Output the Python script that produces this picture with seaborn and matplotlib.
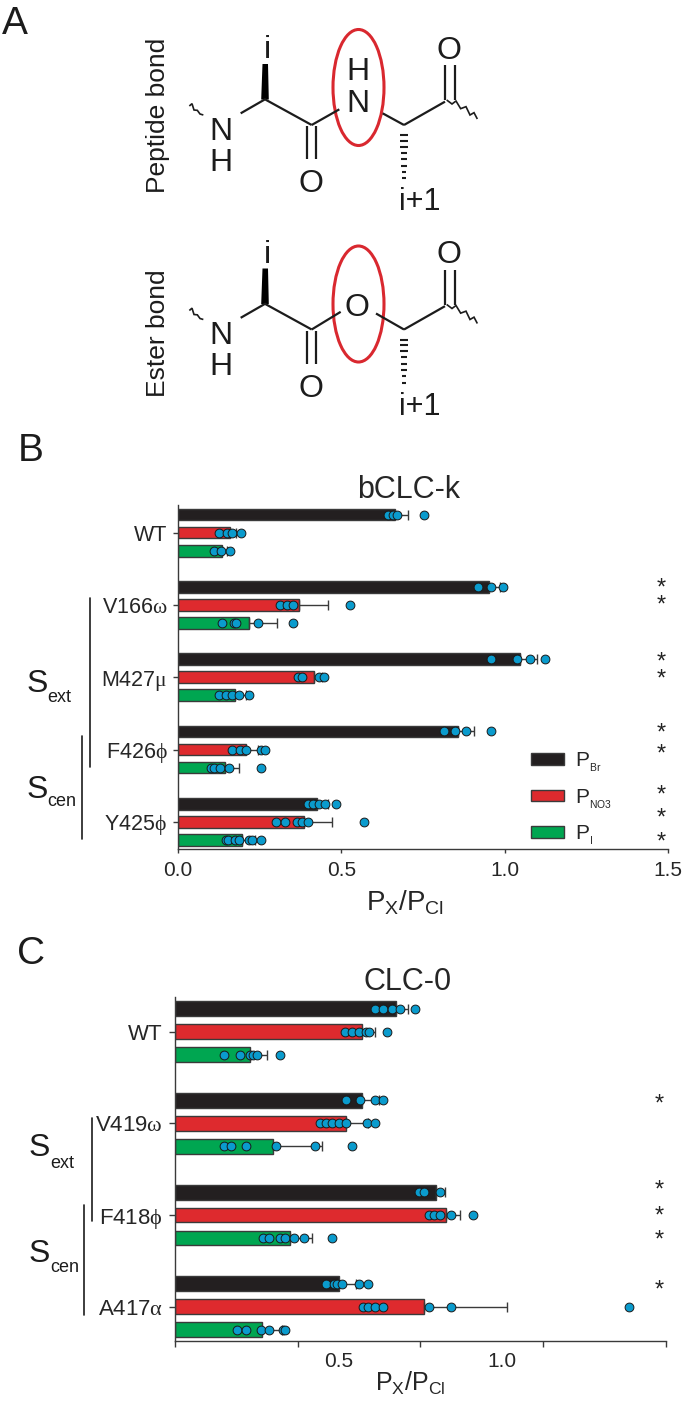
import numpy as np
import pandas as pd
import matplotlib
matplotlib.use("Agg")
import matplotlib.pyplot as plt
from matplotlib.patches import Ellipse, Polygon
import seaborn as sns

# Data
BCLC_GROUPS = ["WT", r"V166$\mathrm{\omega}$", r"M427$\mathrm{\mu}$", r"F426$\mathrm{\phi}$", r"Y425$\mathrm{\phi}$"]
BCLC_MEAN_BR = [0.665, 0.952, 1.046, 0.857, 0.426]
BCLC_MEAN_NO3 = [0.158, 0.371, 0.415, 0.207, 0.385]
BCLC_MEAN_I = [0.135, 0.218, 0.174, 0.144, 0.196]
BCLC_ERR_BR = [0.038, 0.034, 0.053, 0.050, 0.032]
BCLC_ERR_NO3 = [0.020, 0.087, 0.025, 0.037, 0.086]
BCLC_ERR_I = [0.015, 0.084, 0.033, 0.044, 0.039]
BCLC_PTS_BR = [[.642, .658, .669, .752], [.919, .959, .996], [.958, 1.038, 1.079, 1.123],
               [.815, .849, .883, .958], [.398, .414, .431, .449, .485]]
BCLC_PTS_NO3 = [[.124, .151, .164, .192], [.311, .335, .351, .525], [.367, .381, .431, .447],
                [.164, .191, .208, .255, .266], [.301, .327, .365, .381, .397, .569]]
BCLC_PTS_I = [[.111, .131, .158], [.135, .171, .178, .244, .353], [.124, .147, .164, .187, .218],
              [.102, .111, .130, .155, .255], [.147, .154, .174, .188, .218, .227, .255]]
BCLC_STARS = [0.748, 0.988, 1.772, 2.011, 2.754, 3.048, 3.616, 3.934, 4.262]

CLC0_GROUPS = ["WT", r"V419$\mathrm{\omega}$", r"F418$\mathrm{\phi}$", r"A417$\mathrm{\alpha}$"]
CLC0_MEAN_BR = [0.675, 0.573, 0.797, 0.502]
CLC0_MEAN_NO3 = [0.573, 0.522, 0.829, 0.760]
CLC0_MEAN_I = [0.228, 0.301, 0.353, 0.267]
CLC0_ERR_BR = [0.038, 0.051, 0.027, 0.050]
CLC0_ERR_NO3 = [0.040, 0.067, 0.042, 0.255]
CLC0_ERR_I = [0.054, 0.148, 0.065, 0.059]
CLC0_PTS_BR = [[.613, .637, .662, .689, .733], [.522, .565, .610, .637], [.747, .760, .809],
               [.462, .486, .494, .512, .564, .589]]
CLC0_PTS_NO3 = [[.520, .541, .562, .584, .593, .649], [.443, .462, .481, .502, .522, .588, .613],
                [.777, .793, .809, .843, .912], [.576, .589, .612, .637, .777, .843, 1.389]]
CLC0_PTS_I = [[.150, .199, .230, .239, .250, .322], [.150, .170, .216, .310, .427, .542],
              [.270, .287, .322, .335, .363, .394, .481], [.191, .218, .263, .287, .330, .337]]
CLC0_STARS = [0.778, 1.716, 2.0, 2.26, 2.806]

PERMS = ["P$_{_{Br}}$", "P$_{_{NO3}}$", "P$_{_{I}}$"]
PERM_COLORS = ["#231f20", "#de2a2e", "#00a651"]
DOT_COLOR = "#0a9bcd"
EDGE = "#3a3a3a"
W, H = 685, 1402

sns.set_theme(style="ticks")
plt.rcParams["font.family"] = ["Liberation Sans", "DejaVu Sans"]
plt.rcParams["mathtext.fontset"] = "custom"
plt.rcParams["mathtext.rm"] = "Liberation Serif"
plt.rcParams["mathtext.default"] = "regular"


def bar_panel(ax, groups, means, errs, pts, stars, star_x, title, label_size):
    bars = pd.DataFrame([(g, p, m) for p, col in zip(PERMS, means) for g, m in zip(groups, col)],
                        columns=["group", "perm", "value"])
    sns.barplot(data=bars, x="value", y="group", hue="perm", hue_order=PERMS, palette=PERM_COLORS,
                orient="h", width=0.75, gap=0.35, errorbar=None, saturation=1,
                edgecolor=EDGE, linewidth=1, legend=True, ax=ax)

    dots = []
    for j, col in enumerate(pts):
        offset = (j - 1) * 0.25
        ypos = np.arange(len(groups)) + offset
        ax.errorbar(means[j], ypos, xerr=[np.zeros(len(groups)), errs[j]], fmt="none",
                    ecolor=EDGE, elinewidth=1, capsize=3.6, capthick=1, zorder=3)
        for i, vals in enumerate(col):
            dots += [(v, ypos[i]) for v in vals]
    dots = pd.DataFrame(dots, columns=["value", "pos"])
    sns.scatterplot(data=dots, x="value", y="pos", color=DOT_COLOR, edgecolor="#1a1a1a",
                    linewidth=0.7, s=40, zorder=4, ax=ax)

    for y in stars:
        ax.annotate("*", (star_x, y), xytext=(0, -5.5), textcoords="offset points",
                    ha="center", va="baseline", fontsize=17, color="#222222")

    ax.set_xlim(0, 1.5)
    ax.set_xlabel("P$_{X}$/P$_{Cl}$", fontsize=label_size)
    ax.set_ylabel("")
    ax.set_title(title, fontsize=22, pad=0)
    ax.tick_params(axis="y", length=3.8, width=1, pad=4, labelsize=15.5, color=EDGE)
    ax.tick_params(axis="x", width=1, labelsize=15, color=EDGE)
    sns.despine(ax=ax)
    for side in ("left", "bottom"):
        ax.spines[side].set_color(EDGE)
        ax.spines[side].set_linewidth(1)


def ax_box(left, right, top, bottom):
    return [left / W, 1 - bottom / H, (right - left) / W, (bottom - top) / H]


fig = plt.figure(figsize=(W / 100, H / 100), dpi=100)

# B
ax_b = fig.add_axes(ax_box(178, 668, 505, 849))
bar_panel(ax_b, BCLC_GROUPS, [BCLC_MEAN_BR, BCLC_MEAN_NO3, BCLC_MEAN_I],
          [BCLC_ERR_BR, BCLC_ERR_NO3, BCLC_ERR_I], [BCLC_PTS_BR, BCLC_PTS_NO3, BCLC_PTS_I],
          BCLC_STARS, 1.479, "bCLC-k", 20)
ax_b.set_ylim(4.376, -0.382)
ax_b.set_xticks([0, 0.5, 1.0, 1.5], ["0.0", "0.5", "1.0", "1.5"])
ax_b.tick_params(axis="x", length=3, pad=6)
ax_b.title.set_position((0.47, 1))
ax_b.xaxis.set_label_coords(0.463, -0.115)
sns.move_legend(ax_b, "upper left", bbox_to_anchor=(521 / W, 1 - 740 / H), bbox_transform=fig.transFigure,
                frameon=False, title=None, fontsize=15, handlelength=1.55, handleheight=0.5,
                labelspacing=0.62, handletextpad=0.55, borderpad=0)

# C, its tick marks sit at fifths-of-scale positions that do not line up with the labels
ax_c = fig.add_axes(ax_box(175, 665.6, 997, 1340.7))
bar_panel(ax_c, CLC0_GROUPS, [CLC0_MEAN_BR, CLC0_MEAN_NO3, CLC0_MEAN_I],
          [CLC0_ERR_BR, CLC0_ERR_NO3, CLC0_ERR_I], [CLC0_PTS_BR, CLC0_PTS_NO3, CLC0_PTS_I],
          CLC0_STARS, 1.481, "CLC-0", 18)
ax_c.set_ylim(3.371, -0.379)
ax_c.set_xticks([0, 0.375, 0.75, 1.125, 1.5], [])
ax_c.set_xticks([0, 0.5, 1.0, 1.5], ["0.0", "0.5", "1.0", "1.5"], minor=True)
ax_c.tick_params(axis="x", which="major", length=4.3)
ax_c.tick_params(axis="x", which="minor", length=0, pad=8, labelsize=15)
ax_c.tick_params(axis="y", length=4.2, pad=4.5, labelsize=16)
ax_c.title.set_position((0.475, 1))
ax_c.xaxis.set_label_coords(0.48, -0.085)
ax_c.get_legend().remove()

# Everything outside the axes, in picture pixels
sheet = fig.add_axes([0, 0, 1, 1], zorder=-1)
sheet.set_xlim(0, W)
sheet.set_ylim(H, 0)
sheet.axis("off")
sheet.patch.set_alpha(0)
INK = "#1c1c1c"


def mol_line(pts, dy, lw=1.6):
    xs = [p[0] / 3 for p in pts]
    ys = [p[1] / 3 + dy for p in pts]
    sheet.plot(xs, ys, color=INK, lw=lw, solid_capstyle="butt", solid_joinstyle="miter")


def mol_text(x, y, s, dy, size=23):
    sheet.text(x / 3, y / 3 + dy, s, ha="center", va="center_baseline", fontsize=size, color=INK)


def molecule(dy, ester):
    mol_text(802, 140, "i", dy)
    sheet.add_patch(Polygon([(262.5, 64 + dy), (268, 64 + dy), (268.8, 99.5 + dy), (261.2, 99.5 + dy)],
                            color="black", lw=0))
    mol_text(662, 385, "N", dy)
    mol_text(662, 478, "H", dy)
    mol_line([(722, 340), (795, 298), (935, 375)], dy)
    mol_line([(920, 378), (920, 478)], dy)
    mol_line([(948, 378), (948, 478)], dy)
    mol_text(932, 543, "O", dy)
    mol_line([(1335, 195), (1335, 300)], dy)
    mol_line([(1365, 195), (1365, 300)], dy)
    mol_text(1347, 142, "O", dy)
    mol_line([(1212, 375), (1335, 305)], dy)
    mol_text(1260, 597, "i+1", dy, size=22)
    for k, y in enumerate([405, 422, 440, 458, 478, 497, 515, 535]):
        half = 13 - k
        mol_line([(1212 - half, y), (1212 + half, y)], dy, lw=1.5)
    mol_line([(568, 318), (576, 311), (582, 330), (592, 331), (600, 342), (610, 345)], dy, lw=1.2)
    mol_line([(1340, 300), (1356, 312), (1368, 303), (1382, 326), (1398, 320), (1410, 345),
              (1422, 338), (1432, 357)], dy, lw=1.2)
    if ester:
        mol_line([(935, 375), (1022, 322)], dy)
        mol_line([(1128, 327), (1212, 375)], dy)
        mol_text(1070, 300, "O", dy)
    else:
        mol_line([(935, 375), (1018, 328)], dy)
        mol_line([(1148, 340), (1212, 375)], dy)
        mol_text(1075, 205, "H", dy)
        mol_text(1075, 300, "N", dy)


molecule(0, False)
molecule(204.5, True)
for cy in (87.5, 304):
    sheet.add_patch(Ellipse((358.5, cy), 51, 116, fill=False, edgecolor="#d9282f", lw=2.2))
sheet.text(158, 115, "Peptide bond", rotation=90, ha="center", va="center", fontsize=19, color=INK)
sheet.text(158, 333, "Ester bond", rotation=90, ha="center", va="center", fontsize=19, color=INK)

for x, y, s in [(15, 20, "A"), (31, 447, "B"), (31, 950, "C")]:
    sheet.text(x, y, s, ha="center", va="center_baseline", fontsize=28, color=INK)

for x, y0, y1 in [(90.4, 598, 767), (81.7, 736, 839), (92, 1118, 1221), (84, 1205, 1315)]:
    sheet.plot([x, x], [y0, y1], color=INK, lw=1.2)

for sx, sy, tx, ty, s in [(37, 680, 47, 695, "ext"), (37, 787, 47, 799, "cen"),
                          (39, 1145, 50, 1161, "ext"), (39, 1251, 50, 1266, "cen")]:
    sheet.text(sx, sy, "S", ha="center", va="center_baseline", fontsize=23, color=INK)
    sheet.text(tx, ty, s, ha="left", va="center_baseline", fontsize=13, color=INK)

fig.savefig("out.png", dpi=100)
